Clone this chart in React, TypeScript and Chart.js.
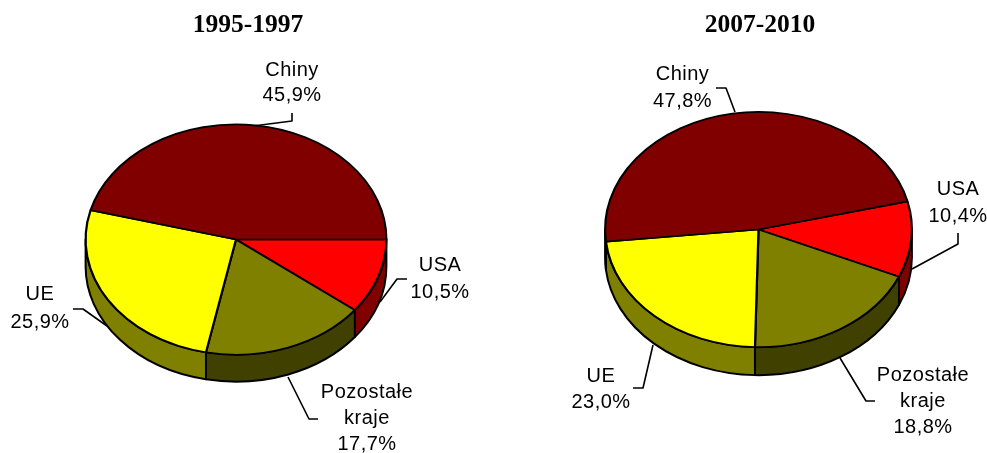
import React, { useEffect, useRef } from "react";
import { Chart, registerables } from "chart.js";

Chart.register(...registerables);

const categories = ["USA", "Pozostałe kraje", "UE", "Chiny"];
const values1995 = [10.5, 17.7, 25.9, 45.9];
const values2007 = [10.4, 18.8, 23.0, 47.8];
const titles = ["1995-1997", "2007-2010"];

const topColors = ["#ff0000", "#808000", "#ffff00", "#800000"];
const wallColors = ["#800000", "#404000", "#808000", "#400000"];

const W = 987;
const H = 453;
const FONT = '20px "Liberation Sans", Arial, sans-serif';

type Note = { x: number; y: number[]; lines: string[]; leader: number[][] };

const splitName = (name: string) => name.split(" ");
const pct = (v: number) => v.toFixed(1).replace(".", ",") + "%";

const notes = (vals: number[], layout: { x: number; y: number[]; leader: number[][] }[]): Note[] =>
  layout.map((l, i) => ({ ...l, lines: [...splitName(categories[i]), pct(vals[i])] }));

const layout1995 = [
  { x: 440, y: [271, 298], leader: [[407, 279], [397, 279], [380, 302]] },
  { x: 367, y: [398, 424, 450], leader: [[318, 419], [309, 419], [288, 377]] },
  { x: 40, y: [300, 328], leader: [[73, 309], [83, 309], [107, 326]] },
  { x: 292, y: [76, 101], leader: [[292, 113], [292, 121], [253, 126]] },
];
const layout2007 = [
  { x: 958, y: [195, 222], leader: [[958, 233], [958, 244], [912, 269]] },
  { x: 923, y: [381, 407, 433], leader: [[875, 401], [866, 401], [840, 358]] },
  { x: 601, y: [382, 408], leader: [[633, 388], [643, 388], [653, 345]] },
  { x: 682.5, y: [80, 107], leader: [[716, 88], [726, 88], [735, 112]] },
];

function makeChart(
  canvas: HTMLCanvasElement,
  values: number[],
  title: string,
  titleX: number,
  labels: Note[],
  cx: number,
  cy: number,
  rx: number,
  ry: number,
  depth: number,
  rotation: number
) {
  const k = ry / rx;
  const plugin = {
    id: "pie3d",
    beforeDatasetsDraw(chart: any) {
      const ctx = chart.ctx;
      const arcs = chart.getDatasetMeta(0).data;
      arcs.forEach((arc: any, i: number) => {
        const p = arc.getProps(["x", "y", "startAngle", "endAngle", "outerRadius"], true);
        const ax = p.x;
        const ay = p.y;
        const r = p.outerRadius;
        for (let n = -1; n <= 1; n++) {
          const a = Math.max(p.startAngle, 2 * Math.PI * n);
          const b = Math.min(p.endAngle, 2 * Math.PI * n + Math.PI);
          if (a >= b) continue;
          ctx.beginPath();
          ctx.ellipse(ax, ay, r, r * k, 0, a, b);
          ctx.ellipse(ax, ay + depth, r, r * k, 0, b, a, true);
          ctx.closePath();
          ctx.fillStyle = wallColors[i];
          ctx.fill();
          ctx.strokeStyle = "#000";
          ctx.lineWidth = 2;
          ctx.lineJoin = "round";
          ctx.stroke();
        }
      });
      ctx.save();
      const m = arcs[0].getProps(["x", "y"], true);
      ctx.translate(m.x, m.y);
      ctx.scale(1, k);
      ctx.translate(-m.x, -m.y);
    },
    afterDatasetsDraw(chart: any) {
      chart.ctx.restore();
    },
    afterDraw(chart: any) {
      const ctx = chart.ctx;
      ctx.save();
      ctx.fillStyle = "#000";
      ctx.textAlign = "center";
      ctx.textBaseline = "alphabetic";
      ctx.font = 'bold 25.5px "Liberation Serif", "Times New Roman", serif';
      ctx.fillText(title, titleX, 32);
      ctx.font = FONT;
      ctx.letterSpacing = "0.5px";
      labels.forEach((l) => {
        l.lines.forEach((t, i) => ctx.fillText(t, l.x, l.y[i]));
        ctx.beginPath();
        l.leader.forEach((pt, i) => (i ? ctx.lineTo(pt[0], pt[1]) : ctx.moveTo(pt[0], pt[1])));
        ctx.strokeStyle = "#000";
        ctx.lineWidth = 1.6;
        ctx.stroke();
      });
      ctx.restore();
    },
  };
  return new Chart(canvas, {
    type: "pie",
    data: {
      labels: categories,
      datasets: [
        {
          data: values,
          backgroundColor: topColors,
          borderColor: "#000",
          borderWidth: 2.2,
          clip: false,
        } as any,
      ],
    },
    options: {
      responsive: false,
      animation: false,
      rotation,
      layout: {
        padding: { left: cx - rx, right: W - cx - rx, top: cy - rx, bottom: H - cy - rx },
      },
      plugins: { legend: { display: false }, tooltip: { enabled: false }, title: { display: false } },
    },
    plugins: [plugin],
  } as any);
}

export default function App() {
  const left = useRef<HTMLCanvasElement>(null);
  const right = useRef<HTMLCanvasElement>(null);
  useEffect(() => {
    const a = makeChart(left.current!, values1995, titles[0], 248, notes(values1995, layout1995), 236, 239.5, 151.5, 116, 27, 90);
    const b = makeChart(right.current!, values2007, titles[1], 758.5 + 1.5, notes(values2007, layout2007), 758.5, 229.5, 154.5, 118.5, 28, 76.2);
    return () => {
      a.destroy();
      b.destroy();
    };
  }, []);
  const style: React.CSSProperties = { position: "absolute", left: 0, top: 0, width: W, height: H };
  return (
    <div style={{ position: "fixed", left: 0, top: 0, width: W, height: H, background: "#fff", overflow: "hidden" }}>
      <canvas ref={left} width={W} height={H} style={style} />
      <canvas ref={right} width={W} height={H} style={style} />
    </div>
  );
}
